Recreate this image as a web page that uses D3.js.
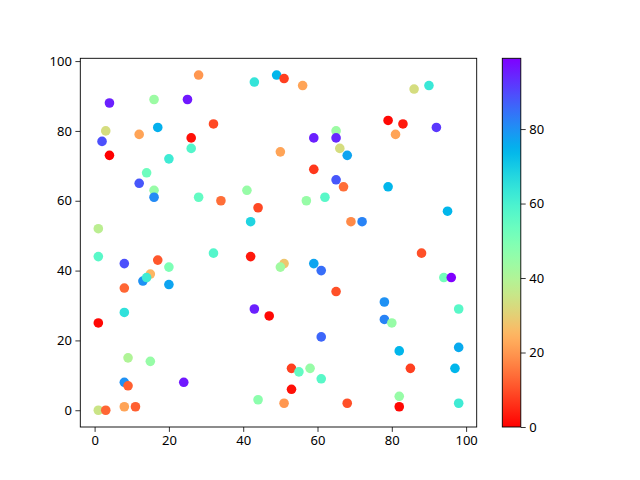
<!DOCTYPE html>
<html><head><meta charset="utf-8">
<script src="https://cdn.jsdelivr.net/npm/d3@7"></script>
<style>body{margin:0;background:#fff}svg{display:block}text{font-family:"Noto Sans","DejaVu Sans",sans-serif;font-size:13px;fill:#000}</style>
</head><body>
<script>
const xs = [28,43,49,51,4,16,25,3,17,32,2,12,26,4,26,50,20,14,12,16,16,28,34,41,44,42,1,
  56,86,90,79,83,92,81,65,59,65,66,68,59,65,67,79,57,62,69,72,95,
  1,8,17,20,32,42,51,50,15,13,14,20,8,8,1,43,47,9,15,8,9,24,44,51,1,3,8,11,
  59,61,88,94,96,65,78,98,78,80,61,82,98,53,55,58,61,85,97,53,68,82,82,98];
const ys = [96,94,96,95,88,89,89,80,81,82,77,79,78,73,75,74,72,68,65,63,61,61,60,63,58,54,52,
  93,92,93,83,82,81,79,80,78,78,75,73,69,66,64,64,60,61,54,54,57,
  44,42,43,41,45,44,42,41,39,37,38,36,35,28,25,29,27,15,14,8,7,8,3,2,0,0,1,1,
  42,40,45,38,38,34,31,29,26,25,21,17,18,12,11,12,9,12,12,6,2,4,1,2];
const cs = [20,64,74,8,95,44,96,33,75,9,89,22,2,0,58,22,62,53,88,45,81,55,14,45,9,68,38,
  22,33,63,1,3,92,22,44,95,94,33,77,7,88,14,74,45,57,18,82,74,
  57,89,11,50,58,3,28,43,25,80,62,77,13,65,1,95,1,40,45,80,12,96,47,20,35,13,22,12,
  77,85,10,52,99,10,80,57,82,45,86,74,76,8,55,45,57,8,74,2,10,45,1,62];
const xTicks = [0,20,40,60,80,100];
const yTicks = [0,20,40,60,80,100];
const cTicks = [0,20,40,60,80];

function rainbowR(t){ // matplotlib rainbow_r
  const x = 1 - t;
  const cl = v => Math.max(0, Math.min(1, v));
  const r = cl(Math.abs(2*x - 0.5)), g = cl(Math.sin(Math.PI*x)), b = cl(Math.cos(Math.PI*x/2));
  return d3.rgb(r*255, g*255, b*255).toString();
}

const W=640,H=480;
const L=80.3,R=476.7,T=58.3,B=427;
const svg = d3.select("body").append("svg").attr("width",W).attr("height",H);

const x = d3.scaleLinear().domain([-3.85,102.85]).range([L,R]);
const y = d3.scaleLinear().domain([-4.8,100.8]).range([B,T]);
const cmin = d3.min(cs), cmax = d3.max(cs);
const cn = d3.scaleLinear().domain([cmin,cmax]).range([0,1]);
const color = v => rainbowR(cn(v));

const data = xs.map((d,i)=>({x:d,y:ys[i],c:cs[i]}));
svg.append("g").selectAll("circle").data(data).join("circle")
  .attr("cx",d=>x(d.x)).attr("cy",d=>y(d.y)).attr("r",4.8)
  .attr("fill",d=>color(d.c));

const xa = svg.append("g").attr("transform",`translate(0,${B})`)
  .call(d3.axisBottom(x).tickValues(xTicks).tickSize(4.9).tickPadding(3.5).tickFormat(d3.format("d")));
const ya = svg.append("g").attr("transform",`translate(${L},0)`)
  .call(d3.axisLeft(y).tickValues(yTicks).tickSize(4.9).tickPadding(3.5).tickFormat(d3.format("d")));
[xa,ya].forEach(a=>{a.select(".domain").remove();a.selectAll("line").attr("stroke","#000").attr("stroke-width",0.8);a.selectAll("text").attr("font-size",13).attr("font-family",null);});
svg.append("rect").attr("x",L).attr("y",T).attr("width",R-L).attr("height",B-T)
  .attr("fill","none").attr("stroke","#000").attr("stroke-width",0.9);

// colorbar
const CL=502.3, CR=520.8;
const defs = svg.append("defs");
const grad = defs.append("linearGradient").attr("id","cb").attr("x1",0).attr("y1",1).attr("x2",0).attr("y2",0);
d3.range(0,1.0001,0.02).forEach(t=>grad.append("stop").attr("offset",t).attr("stop-color",rainbowR(t)));
const cy = d3.scaleLinear().domain([cmin,cmax]).range([B,T]);
svg.append("rect").attr("x",CL).attr("y",T).attr("width",CR-CL).attr("height",B-T).attr("fill","url(#cb)");
svg.append("rect").attr("x",CL).attr("y",T).attr("width",CR-CL).attr("height",B-T)
  .attr("fill","none").attr("stroke","#000").attr("stroke-width",0.9);
const ca = svg.append("g").attr("transform",`translate(${CR},0)`)
  .call(d3.axisRight(cy).tickValues(cTicks).tickSize(4.9).tickPadding(3.5).tickFormat(d3.format("d")));
ca.select(".domain").remove();
ca.selectAll("line").attr("stroke","#000").attr("stroke-width",0.8);
ca.selectAll("text").attr("font-size",13).attr("font-family",null);
</script>
</body></html>
